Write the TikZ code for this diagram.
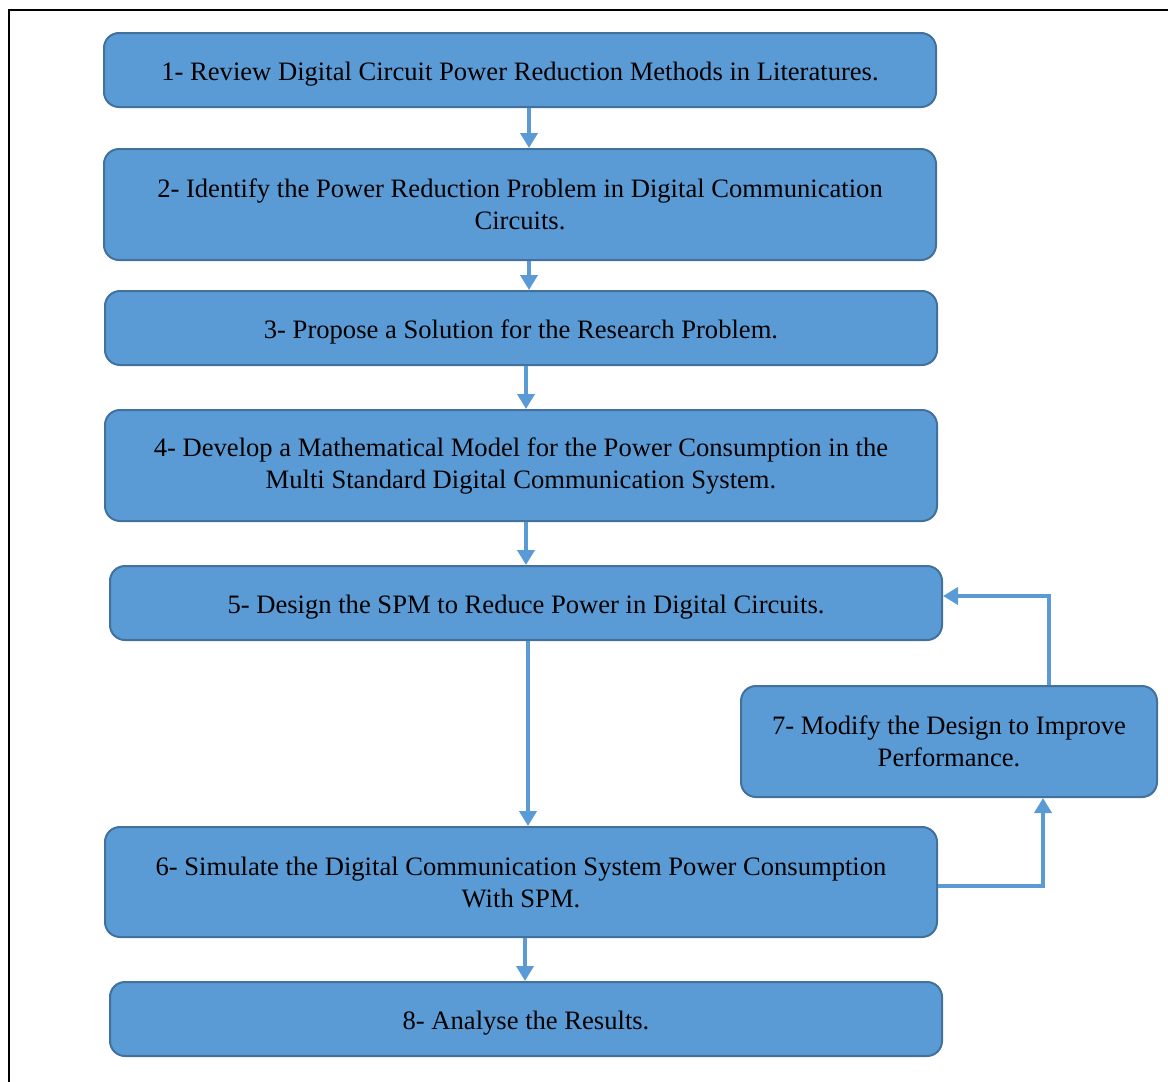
\documentclass[tikz,border=0pt]{standalone}
\usepackage{fontspec}
\setmainfont{Liberation Serif}
\usepackage{xcolor}
\usetikzlibrary{arrows.meta,positioning,calc}
\definecolor{boxfill}{HTML}{5B9BD5}
\definecolor{boxline}{HTML}{41719C}

\begin{document}
\begin{tikzpicture}[x=0.5pt,y=-0.5pt,
  stepbox/.style={draw=boxline,fill=boxfill,line width=1pt,rounded corners=7.5pt,
    minimum width=416pt,align=center,font=\fontsize{13.3}{16}\selectfont,inner sep=0pt},
  oneline/.style={stepbox,minimum height=37pt,text height=13pt},
  twoline/.style={stepbox,minimum height=55.5pt},
  flow/.style={draw=boxfill,line width=2pt,-{Triangle[width=8.5pt,length=7.5pt]}}]
  \useasboundingbox (0,0) rectangle (1168,1082);
  % frame
  \draw[line width=1pt] (9,1082) -- (9,10) -- (1168,10);
  % steps
  \node[oneline] (s1) at (520,70) {1- Review Digital Circuit Power Reduction Methods in Literatures.};
  \node[twoline] (s2) at (520,204.5) {2- Identify the Power Reduction Problem in Digital Communication\\Circuits.};
  \node[oneline] (s3) at (521,328) {3- Propose a Solution for the Research Problem.};
  \node[twoline] (s4) at (521,465.5) {4- Develop a Mathematical Model for the Power Consumption in the\\Multi Standard Digital Communication System.};
  \node[oneline] (s5) at (526,603) {5- Design the SPM to Reduce Power in Digital Circuits.};
  \node[twoline,minimum height=55pt] (s6) at (521,882) {6- Simulate the Digital Communication System Power Consumption\\With SPM.};
  \node[twoline,minimum width=208pt] (s7) at (949,741.5) {7- Modify the Design to Improve\\Performance.};
  \node[oneline] (s8) at (526,1019) {8- Analyse the Results.};
  % arrows
  \draw[flow] ([xshift=4.5pt]s1.south) -- ([xshift=4.5pt]s1.south |- s2.north);
  \draw[flow] ([xshift=4.5pt]s2.south) -- ([xshift=4.5pt]s2.south |- s3.north);
  \draw[flow] ([xshift=2.5pt]s3.south) -- ([xshift=2.5pt]s3.south |- s4.north);
  \draw[flow] ([xshift=2.5pt]s4.south) -- ([xshift=2.5pt]s4.south |- s5.north);
  \draw[flow] ([xshift=1pt]s5.south) -- ([xshift=1pt]s5.south |- s6.north);
  \draw[flow] ([xshift=2pt]s6.south) -- ([xshift=2pt]s6.south |- s8.north);
  % feedback loop
  \draw[flow] ([yshift=-2pt]s6.east) -| ([xshift=47pt]s7.south);
  \draw[flow] ([xshift=50pt]s7.north) |- ([yshift=3.5pt]s5.east);
\end{tikzpicture}
\end{document}
